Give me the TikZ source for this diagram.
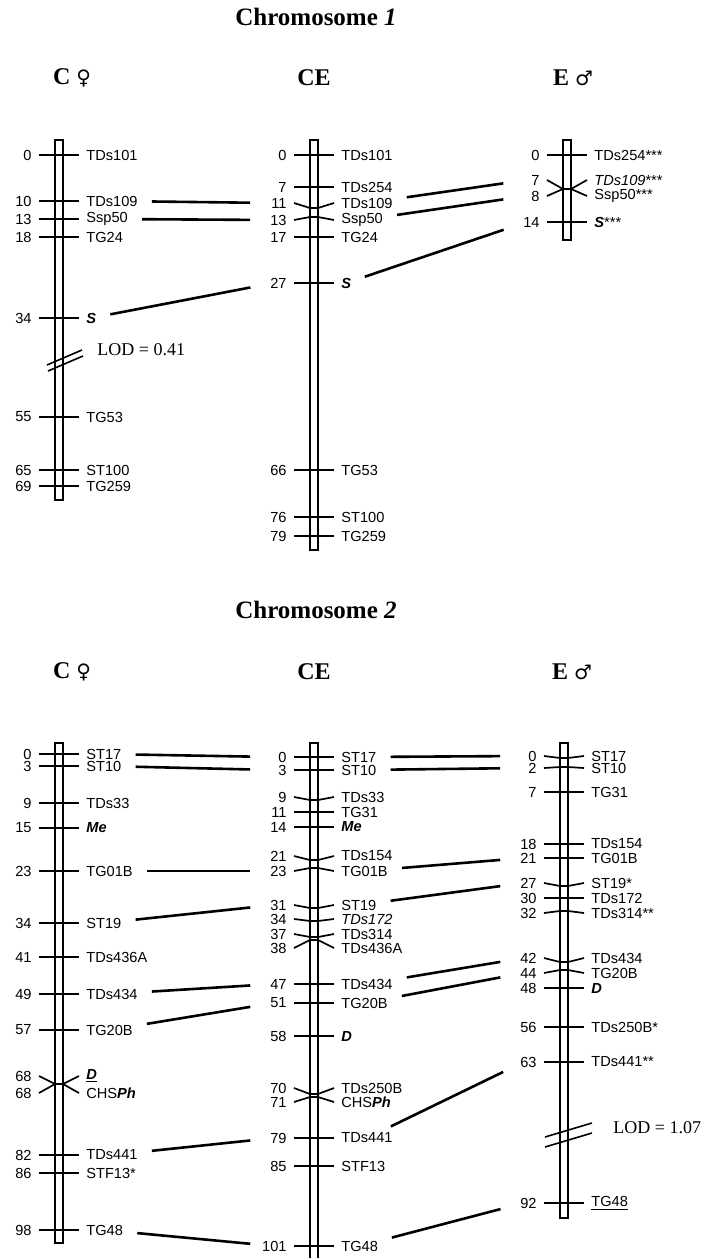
\documentclass[tikz,border=0pt]{standalone}
\usepackage{fontspec}
\setmainfont{Liberation Serif}
\setsansfont{Liberation Sans}
\newfontfamily\symfont{DejaVu Sans}
\usepackage{tikz}

\tikzset{
  bar/.style={draw, line width=0.8pt},
  tick/.style={line width=0.85pt},
  link/.style={line width=1.3pt, shorten <=7pt, shorten >=5pt},
  num/.style={anchor=east, inner sep=0pt, text width=13pt, align=right,
              font=\sffamily\fontsize{7.3}{8}\selectfont},
  lab/.style={anchor=west, inner sep=0pt, font=\sffamily\fontsize{7.3}{8}\selectfont},
  hdr/.style={font=\bfseries\fontsize{12}{14}\selectfont},
  ttl/.style={font=\bfseries\fontsize{12.5}{14}\selectfont},
  lod/.style={anchor=west, inner sep=0pt, font=\fontsize{9}{10}\selectfont},
  brk/.style={line width=0.8pt},
}

\begin{document}
\begin{tikzpicture}[x=0.5pt, y=-0.5pt]
  \useasboundingbox (0,0) rectangle (709,1258);

  %=== Chromosome 1 ===
  \node[ttl] (t1) at (316,17) {Chromosome \textit{1}};
  \node[hdr] (h1c)  at (72,78)  {C {\symfont\mdseries\fontsize{10}{12}\selectfont ♀}};
  \node[hdr] (h1ce) at (314,78) {CE};
  \node[hdr] (h1e)  at (573,78) {E {\symfont\mdseries\fontsize{10}{12}\selectfont ♂}};

  %--- C (female) ---
  \def\xc{59}
  \draw[bar] ({\xc-4},140) rectangle ({\xc+4},500);
  \foreach \nm/\num/\yl/\yb/\lab in {
      c1a/0/155/155/TDs101, c1b/10/201/201/TDs109, c1c/13/219/219/Ssp50,
      c1d/18/237/237/TG24, c1e/34/318/318/\textbf{\textit{S}}, c1f/55/417/417/TG53,
      c1g/65/470/470/ST100, c1h/69/486/486/TG259} {
    \draw[tick] ({\xc-20},\yl) -- ({\xc-4},\yb) -- ({\xc+4},\yb) -- ({\xc+20},\yl);
    \node[num] (\nm-n) at ({\xc-27},\yl) {\num};
    \node[lab] (\nm) at ({\xc+27},\yl) {\lab};
  }
  %--- LOD break ---
  \draw[brk] (47,365) -- (82,350);
  \draw[brk] (48,371) -- (83,356);
  \node[lod] (lod1) at (97,350) {LOD = 0.41};

  %--- CE ---
  \def\xc{314}
  \draw[bar] ({\xc-4},140) rectangle ({\xc+4},550);
  \foreach \nm/\num/\yl/\yb/\lab in {
      ce1a/0/155/155/TDs101, ce1b/7/187/187/TDs254, ce1c/11/203/208/TDs109,
      ce1d/13/220/217/Ssp50, ce1e/17/237/237/TG24, ce1f/27/283/283/\textbf{\textit{S}},
      ce1g/66/470/470/TG53, ce1h/76/517/517/ST100, ce1i/79/536/536/TG259} {
    \draw[tick] ({\xc-20},\yl) -- ({\xc-4},\yb) -- ({\xc+4},\yb) -- ({\xc+20},\yl);
    \node[num] (\nm-n) at ({\xc-27},\yl) {\num};
    \node[lab] (\nm) at ({\xc+27},\yl) {\lab};
  }

  %--- E (male) ---
  \def\xc{567}
  \draw[bar] ({\xc-4},140) rectangle ({\xc+4},240);
  \foreach \nm/\num/\yl/\yb/\lab in {
      e1a/0/155/155/TDs254***, e1b/7/180/189/\textit{TDs109}***,
      e1c/8/196/189/Ssp50***, e1d/14/222/222/\textbf{\textit{S}}***} {
    \draw[tick] ({\xc-20},\yl) -- ({\xc-4},\yb) -- ({\xc+4},\yb) -- ({\xc+20},\yl);
    \node[num] (\nm-n) at ({\xc-27},\yl) {\num};
    \node[lab] (\nm) at ({\xc+27},\yl) {\lab};
  }

  %--- links chr 1 ---
  \draw[link] (c1b) -- (ce1c-n);
  \draw[link] (c1c) -- (ce1d-n);
  \draw[link] (c1e) -- (ce1f-n);
  \draw[link] (ce1c) -- (e1b-n);
  \draw[link] (ce1d) -- (e1c-n);
  \draw[link] (ce1f) -- (e1d-n);

  %=== Chromosome 2 ===
  \node[ttl] (t2) at (316,610) {Chromosome \textit{2}};
  \node[hdr] (h2c)  at (72,672)  {C {\symfont\mdseries\fontsize{10}{12}\selectfont ♀}};
  \node[hdr] (h2ce) at (314,672) {CE};
  \node[hdr] (h2e)  at (572,672) {E {\symfont\mdseries\fontsize{10}{12}\selectfont ♂}};

  %--- C (female) ---
  \def\xc{59}
  \draw[bar] ({\xc-4},743) rectangle ({\xc+4},1243);
  \foreach \nm/\num/\yl/\yb/\lab in {
      c2a/0/754/754/ST17, c2b/3/766/766/ST10, c2c/9/803/803/TDs33,
      c2d/15/828/828/\textbf{\textit{Me}}, c2e/23/871/871/TG01B, c2f/34/923/923/ST19,
      c2g/41/957/957/TDs436A, c2h/49/994/994/TDs434, c2i/57/1030/1030/TG20B,
      c2j/68/1076/1084/\underline{\textbf{\textit{D}}}, c2k/68/1093/1084/CHS\textbf{\textit{Ph}},
      c2l/82/1155/1155/TDs441, c2m/86/1173/1173/STF13*, c2n/98/1230/1230/TG48} {
    \draw[tick] ({\xc-20},\yl) -- ({\xc-4},\yb) -- ({\xc+4},\yb) -- ({\xc+20},\yl);
    \node[num] (\nm-n) at ({\xc-27},\yl) {\num};
    \node[lab] (\nm) at ({\xc+27},\yl) {\lab};
  }

  %--- CE ---
  \def\xc{314}
  \draw[bar] ({\xc-4},743) rectangle ({\xc+4},1270);
  \foreach \nm/\num/\yl/\yb/\lab in {
      ce2a/0/757/757/ST17, ce2b/3/770/770/ST10, ce2c/9/797/800/TDs33,
      ce2d/11/812/812/TG31, ce2e/14/827/827/\textbf{\textit{Me}}, ce2f/21/856/860/TDs154,
      ce2g/23/871/868/TG01B, ce2h/31/905/908/ST19, ce2i/34/919/921/\textit{TDs172},
      ce2j/37/934/937/TDs314, ce2k/38/948/940/TDs436A, ce2l/47/984/984/TDs434,
      ce2m/51/1003/1003/TG20B, ce2n/58/1036/1036/\textbf{\textit{D}},
      ce2o/70/1088/1094/TDs250B, ce2p/71/1102/1097/CHS\textbf{\textit{Ph}},
      ce2q/79/1138/1138/TDs441, ce2r/85/1166/1166/STF13, ce2s/101/1246/1246/TG48} {
    \draw[tick] ({\xc-20},\yl) -- ({\xc-4},\yb) -- ({\xc+4},\yb) -- ({\xc+20},\yl);
    \node[num] (\nm-n) at ({\xc-27},\yl) {\num};
    \node[lab] (\nm) at ({\xc+27},\yl) {\lab};
  }

  %--- E (male) ---
  \def\xc{564}
  \draw[bar] ({\xc-4},743) rectangle ({\xc+4},1218);
  \foreach \nm/\num/\yl/\yb/\lab in {
      e2a/0/756/758/ST17, e2b/2/768/767/ST10, e2c/7/792/792/TG31,
      e2d/18/844/844/TDs154, e2e/21/858/858/TG01B, e2f/27/883/886/ST19*,
      e2g/30/898/898/TDs172, e2h/32/913/911/TDs314**, e2i/42/958/962/TDs434,
      e2j/44/973/970/TG20B, e2k/48/988/988/\textbf{\textit{D}}, e2l/56/1027/1027/TDs250B*,
      e2m/63/1062/1062/TDs441**, e2n/92/1203/1203/\underline{TG48}} {
    \draw[tick] ({\xc-20},\yl) -- ({\xc-4},\yb) -- ({\xc+4},\yb) -- ({\xc+20},\yl);
    \node[num] (\nm-n) at ({\xc-27},\yl) {\num};
    \node[lab] (\nm) at ({\xc+27},\yl) {\lab};
  }
  %--- LOD break ---
  \draw[brk] (545,1137) -- (592,1123);
  \draw[brk] (545,1147) -- (592,1133);
  \node[lod] (lod2) at (613,1128) {LOD = 1.07};

  %--- links chr 2 ---
  \draw[link] (c2a) -- (ce2a-n);
  \draw[link] (c2b) -- (ce2b-n);
  \draw[link] (c2e) -- (ce2g-n);
  \draw[link] (c2f) -- (ce2h-n);
  \draw[link] (c2h) -- (ce2l-n);
  \draw[link] (c2i) -- (ce2m-n);
  \draw[link] (c2l) -- (ce2q-n);
  \draw[link] (c2n) -- (ce2s-n);
  \draw[link] (ce2a) -- (e2a-n);
  \draw[link] (ce2b) -- (e2b-n);
  \draw[link] (ce2g) -- (e2e-n);
  \draw[link] (ce2h) -- (e2f-n);
  \draw[link] (ce2l) -- (e2i-n);
  \draw[link] (ce2m) -- (e2j-n);
  \draw[link] (ce2q) -- (e2m-n);
  \draw[link] (ce2s) -- (e2n-n);

\end{tikzpicture}
\end{document}
